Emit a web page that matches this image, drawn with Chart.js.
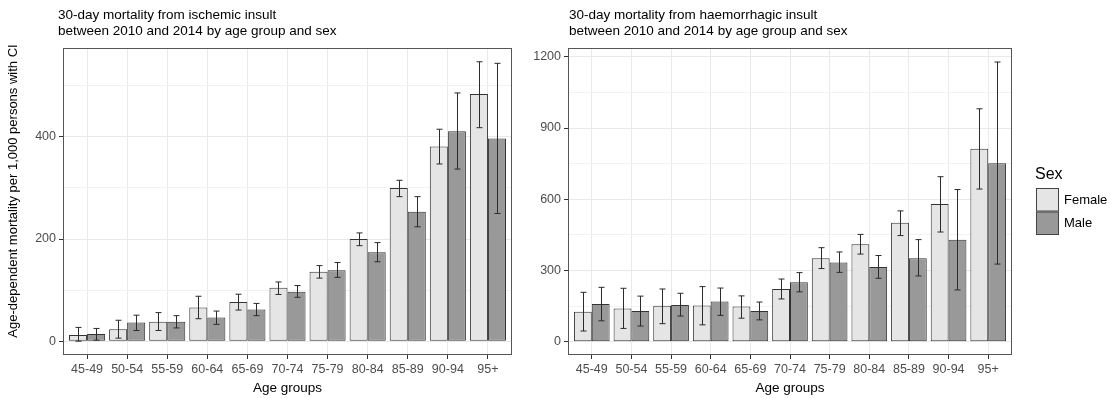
<!DOCTYPE html>
<html>
<head>
<meta charset="utf-8">
<script src="https://cdn.jsdelivr.net/npm/chart.js@4/dist/chart.umd.min.js"></script>
<style>
  body { margin: 0; background: #fff; }
  #wrap { position: relative; width: 1110px; height: 398px; }
  #leftBox { position: absolute; left: 0; top: 0; width: 520px; height: 398px; }
  #rightBox { position: absolute; left: 520px; top: 0; width: 590px; height: 398px; }
</style>
</head>
<body>
<div id="wrap">
  <div id="leftBox"><canvas id="ischChart" width="520" height="398"></canvas></div>
  <div id="rightBox"><canvas id="haemChart" width="590" height="398"></canvas></div>
</div>
<script>
// age groups on the x axis
const ageGroups = ['45-49', '50-54', '55-59', '60-64', '65-69', '70-74', '75-79', '80-84', '85-89', '90-94', '95+'];
const sexes = ['Female', 'Male'];

// ischemic insult, mortality per 1,000 with CI
const ischFemale   = [12, 23.5, 38, 66, 77, 104.5, 136, 200, 300, 381, 484];
const ischFemaleLo = [0, 6, 21, 44, 61, 91.5, 123.5, 187, 283, 347, 418];
const ischFemaleHi = [27, 41, 56, 88, 92, 116, 148, 212, 315, 415, 547];
const ischMale     = [14, 36.5, 38, 46.5, 62, 97, 139, 174, 253.5, 411, 397];
const ischMaleLo   = [2, 21, 26, 33, 50, 86, 125, 155.5, 224, 337, 250];
const ischMaleHi   = [25, 51, 50, 59, 74, 109, 154, 193, 283, 486, 544];

// haemorrhagic insult
const haemFemale   = [126, 140, 151, 152, 148, 222, 352, 410, 501, 580, 813];
const haemFemaleLo = [45, 56, 76, 71, 99, 180, 308, 369, 447, 462, 643];
const haemFemaleHi = [208, 225, 222, 232, 193, 264, 396, 452, 551, 695, 981];
const haemMale     = [159, 129, 155, 169, 129, 250, 334, 315, 352, 429, 752];
const haemMaleLo   = [88, 66, 108, 111, 92, 210, 292, 267, 277, 218, 327];
const haemMaleHi   = [229, 192, 204, 226, 167, 291, 378, 363, 430, 641, 1178];

// y ticks
const ischTicks = [0, 200, 400];
const ischMinor = [100, 300, 500];
const haemTicks = [0, 300, 600, 900, 1200];
const haemMinor = [150, 450, 750, 1050];

const ischTitle = ['30-day mortality from ischemic insult', 'between 2010 and 2014 by age group and sex'];
const haemTitle = ['30-day mortality from haemorrhagic insult', 'between 2010 and 2014 by age group and sex'];
const yLabel = 'Age-dependent mortality per 1,000 persons with CI';

Chart.defaults.font.family = '"Liberation Sans", Arial, sans-serif';
Chart.defaults.color = '#4d4d4d';

const fillColors = ['#e5e5e5', '#999999'];

// error bars drawn from the CI arrays through the y scale
const errorBars = {
  id: 'errorBars',
  afterDatasetsDraw(chart) {
    const c = chart.ctx;
    const y = chart.scales.y;
    c.save();
    c.strokeStyle = '#2b2b2b';
    c.lineWidth = 1;
    chart.data.datasets.forEach((ds, i) => {
      chart.getDatasetMeta(i).data.forEach((bar, j) => {
        const yl = y.getPixelForValue(ds.lo[j]);
        const yh = y.getPixelForValue(ds.hi[j]);
        const x = Math.round(bar.x) + 0.5;
        c.beginPath();
        c.moveTo(x, yl); c.lineTo(x, yh);
        c.moveTo(x - 3, yl); c.lineTo(x + 3, yl);
        c.moveTo(x - 3, yh); c.lineTo(x + 3, yh);
        c.stroke();
      });
    });
    c.restore();
  }
};

// panel border, two-line title and y axis label
const panel = {
  id: 'panel',
  afterDraw(chart, args, opts) {
    const c = chart.ctx;
    const a = chart.chartArea;
    c.save();
    c.strokeStyle = '#555';
    c.lineWidth = 1;
    c.strokeRect(Math.round(a.left) + 0.5, Math.round(a.top) + 0.5, Math.round(a.right - a.left) - 1, Math.round(a.bottom - a.top) - 1);
    c.fillStyle = '#000';
    c.font = '13.5px "Liberation Sans", Arial, sans-serif';
    c.textBaseline = 'middle';
    opts.lines.forEach((t, i) => c.fillText(t, opts.x, 15 + i * 16.5));
    if (opts.yTitle) {
      c.font = '13px "Liberation Sans", Arial, sans-serif';
      c.translate(13.5, 191);
      c.rotate(-Math.PI / 2);
      c.textAlign = 'center';
      c.fillText(opts.yTitle, 0, 0);
    }
    c.restore();
  }
};

// ggplot-style legend at the right of the second panel
const sexLegend = {
  id: 'sexLegend',
  afterDraw(chart) {
    const c = chart.ctx;
    const x = chart.chartArea.right + 24;
    c.save();
    c.fillStyle = '#000';
    c.textBaseline = 'middle';
    c.font = '16px "Liberation Sans", Arial, sans-serif';
    c.fillText('Sex', x - 1, 175);
    c.font = '13px "Liberation Sans", Arial, sans-serif';
    sexes.forEach((s, i) => {
      const top = 188 + i * 23.5;
      c.fillStyle = fillColors[i];
      c.fillRect(x, top, 23, 23.5);
      c.strokeStyle = '#444';
      c.strokeRect(x + 0.5, top + 0.5, 22, 22.5);
      c.fillStyle = '#000';
      c.fillText(s, x + 28, top + 12);
    });
    c.restore();
  }
};

function makeChart(id, female, fLo, fHi, male, mLo, mHi, ticks, minor, range, title, titleX, leftWidth, padRight, yTitle) {
  const allTicks = ticks.concat(minor).sort((a, b) => a - b);
  return new Chart(document.getElementById(id), {
    type: 'bar',
    data: {
      labels: ageGroups,
      datasets: [
        { label: sexes[0], data: female, lo: fLo, hi: fHi, backgroundColor: fillColors[0] },
        { label: sexes[1], data: male, lo: mLo, hi: mHi, backgroundColor: fillColors[1] }
      ]
    },
    options: {
      responsive: false,
      animation: false,
      layout: { padding: { top: 48, right: padRight, left: 0, bottom: 0 } },
      datasets: {
        bar: {
          categoryPercentage: 0.9,
          barPercentage: 1.0,
          borderColor: '#333',
          borderWidth: 1,
          borderSkipped: false
        }
      },
      plugins: {
        legend: { display: false },
        tooltip: { enabled: false },
        panel: { lines: title, x: titleX, yTitle: yTitle }
      },
      scales: {
        x: {
          offset: true,
          afterBuildTicks: s => { s._startValue = -0.6; s._valueRange = ageGroups.length + 0.2; },
          afterFit: s => { s.height = 43; },
          grid: { offset: false, color: '#e9e9e9', tickColor: '#333', tickLength: 4 },
          border: { display: false },
          ticks: { autoSkip: false, maxRotation: 0, padding: 3, color: '#4d4d4d', font: { size: 12.5 } },
          title: { display: true, text: 'Age groups', color: '#000', font: { size: 13.5 }, padding: { top: 0, bottom: 2 } }
        },
        y: {
          min: range[0],
          max: range[1],
          afterBuildTicks: s => { s.ticks = allTicks.map(v => ({ value: v })); },
          afterFit: s => { s.width = leftWidth; },
          grid: {
            color: c => ticks.includes(c.tick.value) ? '#e9e9e9' : '#f2f2f2',
            tickColor: c => ticks.includes(c.tick.value) ? '#333' : 'rgba(0,0,0,0)',
            tickLength: 4
          },
          border: { display: false },
          ticks: {
            autoSkip: false,
            padding: 3,
            color: '#4d4d4d',
            font: { size: 12.5 },
            callback: v => ticks.includes(v) ? String(v) : ''
          }
        }
      }
    },
    plugins: id === 'haemChart' ? [errorBars, panel, sexLegend] : [errorBars, panel]
  });
}

makeChart('ischChart', ischFemale, ischFemaleLo, ischFemaleHi, ischMale, ischMaleLo, ischMaleHi,
  ischTicks, ischMinor, [-27, 574], ischTitle, 58, 63, 8, yLabel);
makeChart('haemChart', haemFemale, haemFemaleLo, haemFemaleHi, haemMale, haemMaleLo, haemMaleHi,
  haemTicks, haemMinor, [-56, 1237], haemTitle, 49, 48, 98, '');
</script>
</body>
</html>
